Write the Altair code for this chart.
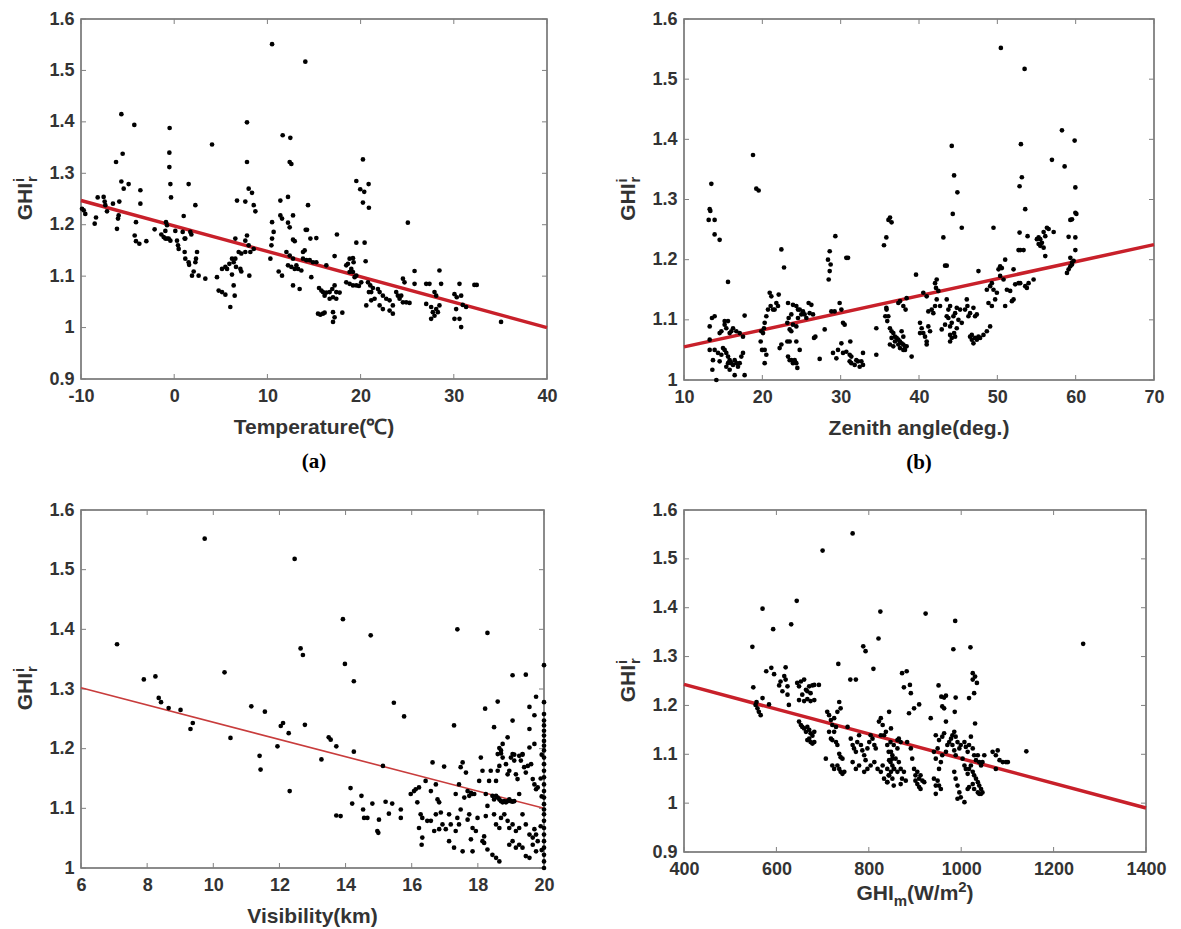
import altair as alt
import pandas as pd

# ---------------- data ----------------
# (a) Temperature (degC) vs GHI ratio
a_points = [
    (-9.89, 1.231), (-9.71, 1.228), (-9.54, 1.221), (-8.53, 1.202), (-8.39, 1.214), (-8.21, 1.253),
    (-7.57, 1.254), (-7.46, 1.245), (-7.39, 1.238), (-7.21, 1.226), (-6.57, 1.241), (-6.14, 1.192),
    (-6.03, 1.212), (-5.96, 1.218), (-5.89, 1.245), (-6.24, 1.322), (-5.67, 1.415), (-5.53, 1.338),
    (-5.67, 1.284), (-5.42, 1.27), (-4.89, 1.279), (-4.28, 1.394), (-4.1, 1.205), (-4.24, 1.179),
    (-4.1, 1.168), (-3.74, 1.163), (-3.63, 1.267), (-3.63, 1.241), (-2.99, 1.168), (-2.1, 1.191),
    (-1.38, 1.181), (-1.13, 1.176), (-0.95, 1.173), (-0.77, 1.173), (-0.88, 1.205), (-0.77, 1.199),
    (-0.95, 1.188), (-0.49, 1.388), (-0.52, 1.34), (-0.52, 1.312), (-0.41, 1.279), (-0.34, 1.253),
    (-0.59, 1.173), (-0.41, 1.169), (0.12, 1.188), (0.3, 1.169), (0.41, 1.16), (0.48, 1.153),
    (1.02, 1.217), (0.91, 1.186), (1.12, 1.173), (1.19, 1.173), (1.55, 1.279), (1.73, 1.186),
    (1.84, 1.181), (2.27, 1.238), (1.12, 1.147), (1.19, 1.134), (1.55, 1.127), (1.6, 1.122),
    (2.09, 1.109), (2.27, 1.127), (2.34, 1.134), (1.91, 1.101), (2.62, 1.101), (2.45, 1.147),
    (3.34, 1.095), (4.06, 1.356), (4.59, 1.098), (4.77, 1.072), (5.13, 1.069), (5.49, 1.064),
    (6.02, 1.04), (5.13, 1.114), (5.49, 1.118), (5.67, 1.114), (5.92, 1.124), (6.2, 1.134),
    (6.38, 1.127), (6.56, 1.134), (6.63, 1.118), (6.2, 1.103), (6.38, 1.082), (6.49, 1.062),
    (6.74, 1.247), (7.1, 1.114), (7.2, 1.109), (7.63, 1.245), (7.81, 1.399), (7.81, 1.322),
    (7.99, 1.27), (8.35, 1.262), (8.53, 1.238), (8.71, 1.226), (7.63, 1.169), (7.81, 1.179),
    (7.99, 1.16), (8.17, 1.147), (7.63, 1.147), (8.06, 1.101), (8.53, 1.153), (6.56, 1.173),
    (6.92, 1.147), (7.2, 1.144), (10.5, 1.551), (11.64, 1.374), (11.39, 1.247), (11.39, 1.218),
    (11.57, 1.212), (10.5, 1.205), (10.67, 1.186), (10.5, 1.173), (10.43, 1.16), (10.32, 1.134),
    (11.21, 1.109), (11.57, 1.101),
    (12.46, 1.369), (14.07, 1.517), (12.39, 1.322), (12.57, 1.318), (12.21, 1.254), (12.75, 1.218),
    (12.21, 1.204), (12.39, 1.195), (14.36, 1.238), (14.11, 1.19), (14.25, 1.19), (12.75, 1.171),
    (12.93, 1.168), (14.61, 1.173), (15.25, 1.174), (12.04, 1.147), (12.39, 1.14), (12.75, 1.134),
    (13.11, 1.121), (12.21, 1.121), (12.57, 1.118), (12.93, 1.114), (13.29, 1.114), (13.64, 1.111),
    (13.82, 1.134), (14.18, 1.131), (14.54, 1.131), (14.89, 1.127), (15.25, 1.127), (13.82, 1.147),
    (14.0, 1.15), (13.46, 1.075), (12.75, 1.082), (14.71, 1.098), (17.46, 1.181), (17.21, 1.139),
    (16.32, 1.121), (15.54, 1.077), (15.79, 1.072), (15.96, 1.069), (16.32, 1.068), (16.68, 1.069),
    (16.96, 1.075), (17.21, 1.082), (17.39, 1.069), (17.75, 1.068), (16.14, 1.062), (16.68, 1.056),
    (17.04, 1.059), (17.39, 1.056), (15.43, 1.027), (15.68, 1.025), (15.96, 1.027), (16.14, 1.029),
    (17.04, 1.03), (17.21, 1.02), (17.04, 1.011), (18.04, 1.029), (18.46, 1.121), (18.64, 1.124),
    (18.82, 1.134), (19.18, 1.135), (19.25, 1.127), (19.0, 1.114), (18.82, 1.108), (19.18, 1.108),
    (19.36, 1.098), (19.54, 1.101), (18.46, 1.088), (18.82, 1.085), (19.18, 1.082), (19.54, 1.082),
    (19.82, 1.081), (20.07, 1.088), (19.54, 1.165), (20.43, 1.165), (20.54, 1.129), (19.54, 1.285),
    (19.96, 1.269), (20.25, 1.327), (20.39, 1.264), (20.86, 1.279), (20.25, 1.243), (20.89, 1.233),
    (20.79, 1.088), (21.04, 1.082), (21.32, 1.077), (21.14, 1.069), (20.89, 1.069), (20.61, 1.043),
    (21.14, 1.053), (21.5, 1.056), (21.86, 1.075), (22.04, 1.069), (22.39, 1.062), (22.75, 1.056),
    (23.11, 1.053), (22.04, 1.043), (22.39, 1.036), (23.11, 1.033), (23.46, 1.027), (23.46, 1.043),
    (23.82, 1.069), (24.0, 1.062), (24.18, 1.056), (24.36, 1.062), (24.54, 1.049), (24.89, 1.049),
    (25.25, 1.048), (24.71, 1.088), (24.54, 1.095), (25.07, 1.204), (25.79, 1.11), (25.79, 1.085),
    (27.04, 1.085), (27.39, 1.085), (27.93, 1.069), (28.11, 1.062), (28.46, 1.111), (28.64, 1.085),
    (27.04, 1.046), (27.57, 1.04), (27.75, 1.03), (27.93, 1.023), (28.11, 1.036), (28.29, 1.03),
    (28.46, 1.043), (27.57, 1.017), (30.07, 1.065), (30.32, 1.059), (30.61, 1.085), (30.79, 1.062),
    (30.96, 1.044), (31.32, 1.04), (30.25, 1.036), (30.07, 1.017), (30.61, 1.017), (30.79, 1.001),
    (32.21, 1.083), (32.46, 1.083), (35.07, 1.011),
]

# (b) Zenith angle (deg.) vs GHI ratio
b_points = [
    (13.49, 1.326), (13.28, 1.284), (13.36, 1.281), (13.15, 1.266), (13.91, 1.266), (13.91, 1.242),
    (14.55, 1.233), (15.62, 1.163), (18.81, 1.374), (19.23, 1.318), (19.53, 1.315),
    (13.28, 1.089), (13.57, 1.103), (13.91, 1.106), (13.28, 1.067), (13.28, 1.05), (13.7, 1.033),
    (13.62, 1.017), (14.13, 1.0), (13.91, 1.05), (14.34, 1.045), (14.55, 1.031), (14.77, 1.042),
    (14.55, 1.078), (14.77, 1.081), (15.19, 1.092), (15.19, 1.098), (15.62, 1.098), (15.4, 1.086),
    (15.83, 1.078), (16.04, 1.081), (16.26, 1.086), (16.68, 1.081), (17.11, 1.078), (17.53, 1.072),
    (14.98, 1.053), (15.19, 1.05), (15.4, 1.045), (15.62, 1.039), (15.83, 1.033), (16.04, 1.028),
    (16.26, 1.025), (16.47, 1.033), (16.68, 1.028), (16.89, 1.022), (17.11, 1.028), (17.32, 1.039),
    (15.83, 1.017), (16.47, 1.008), (17.74, 1.008), (15.4, 1.022), (15.62, 1.028), (17.53, 1.045),
    (17.74, 1.107), (20.3, 1.05), (20.51, 1.042), (20.3, 1.028), (19.96, 1.05), (19.79, 1.064),
    (20.09, 1.078), (19.87, 1.081), (20.21, 1.086), (20.3, 1.095), (20.51, 1.106), (20.72, 1.117),
    (21.06, 1.123), (21.15, 1.139), (20.94, 1.145), (21.36, 1.117), (21.57, 1.117), (21.79, 1.128),
    (22.0, 1.123), (22.09, 1.142), (22.43, 1.217), (22.77, 1.187), (22.21, 1.053), (22.43, 1.059),
    (23.28, 1.128), (23.91, 1.125), (23.7, 1.109), (23.36, 1.103), (23.19, 1.095), (23.49, 1.084),
    (23.7, 1.081), (23.91, 1.092), (24.34, 1.089), (24.55, 1.103), (24.77, 1.117), (24.98, 1.109),
    (25.19, 1.114), (25.4, 1.109), (25.91, 1.128), (26.26, 1.125), (26.04, 1.111), (25.62, 1.103),
    (24.55, 1.117), (24.34, 1.123), (23.19, 1.064), (23.28, 1.039), (23.49, 1.033), (23.7, 1.033),
    (24.13, 1.033), (24.34, 1.028), (24.47, 1.02), (23.91, 1.028), (23.49, 1.064), (24.34, 1.064),
    (24.77, 1.05), (26.47, 1.109), (26.6, 1.07), (26.77, 1.072), (27.32, 1.035), (27.96, 1.084),
    (28.38, 1.2), (28.6, 1.214), (28.72, 1.192), (28.6, 1.181), (28.47, 1.167), (28.81, 1.114),
    (29.23, 1.114), (29.32, 1.239), (29.02, 1.045), (29.45, 1.036), (29.87, 1.128), (30.09, 1.117),
    (30.3, 1.095), (30.51, 1.092), (30.72, 1.203), (30.94, 1.203), (29.66, 1.05), (30.09, 1.061),
    (30.3, 1.045), (30.72, 1.047), (31.15, 1.042), (31.36, 1.039), (31.36, 1.028), (31.79, 1.025),
    (32.0, 1.033), (32.21, 1.031), (32.43, 1.022), (32.64, 1.031), (32.85, 1.025), (31.15, 1.031),
    (31.23, 1.064), (32.85, 1.045), (34.55, 1.042), (34.55, 1.086), (35.7, 1.106), (35.83, 1.12),
    (35.53, 1.224), (35.83, 1.237), (36.3, 1.27), (36.5, 1.262), (36.1, 1.266),
    (35.86, 1.117), (36.08, 1.106), (35.95, 1.098), (36.29, 1.086), (36.5, 1.081), (36.72, 1.078),
    (36.93, 1.072), (37.14, 1.07), (37.36, 1.067), (37.57, 1.064), (37.78, 1.061), (38.0, 1.059),
    (38.21, 1.056), (36.5, 1.07), (36.93, 1.064), (37.36, 1.059), (36.29, 1.059), (36.72, 1.056),
    (37.57, 1.053), (38.0, 1.05), (38.21, 1.05), (38.42, 1.056), (39.06, 1.039), (38.0, 1.072),
    (37.78, 1.081), (37.36, 1.128), (37.57, 1.131), (38.0, 1.123), (38.42, 1.136), (38.29, 1.117),
    (39.62, 1.175), (40.13, 1.095), (40.34, 1.086), (40.55, 1.078), (40.13, 1.078), (40.77, 1.072),
    (40.98, 1.064), (41.19, 1.089), (41.41, 1.081), (40.98, 1.059), (40.55, 1.145), (40.98, 1.139),
    (41.19, 1.114), (41.62, 1.117), (41.83, 1.111), (42.05, 1.123), (42.26, 1.134), (42.47, 1.148),
    (42.69, 1.123), (42.26, 1.167), (42.05, 1.161), (42.17, 1.153), (43.11, 1.237), (43.33, 1.19),
    (43.54, 1.19), (44.18, 1.389), (44.48, 1.34), (44.9, 1.312), (44.31, 1.276), (45.46, 1.253),
    (42.9, 1.084), (43.33, 1.092), (43.54, 1.106), (43.75, 1.117), (43.97, 1.123), (43.54, 1.134),
    (43.75, 1.103), (43.97, 1.089), (44.18, 1.095), (44.39, 1.106), (44.48, 1.078), (43.97, 1.075),
    (44.18, 1.07), (43.97, 1.064), (44.61, 1.072), (44.82, 1.086), (45.25, 1.117), (45.46, 1.095),
    (45.03, 1.1), (44.82, 1.12), (44.61, 1.111), (45.88, 1.117), (46.18, 1.123), (46.1, 1.134),
    (46.31, 1.106), (46.52, 1.111), (46.95, 1.12), (47.16, 1.106), (47.38, 1.109), (46.52, 1.072),
    (46.74, 1.067), (46.95, 1.061), (47.16, 1.07), (47.59, 1.072), (47.8, 1.07), (48.23, 1.075),
    (48.66, 1.081), (49.08, 1.089), (46.74, 1.075), (47.38, 1.067), (47.59, 1.181), (49.51, 1.253),
    (48.66, 1.15), (49.08, 1.156), (49.3, 1.161), (48.87, 1.128), (49.3, 1.123), (49.72, 1.134),
    (49.94, 1.145), (49.51, 1.15), (50.15, 1.184), (50.36, 1.173), (50.36, 1.189), (50.58, 1.186),
    (50.79, 1.167), (51.0, 1.123), (51.22, 1.15), (51.64, 1.148), (51.86, 1.131), (52.07, 1.134),
    (52.28, 1.159), (52.71, 1.161), (52.92, 1.161), (53.56, 1.156), (53.77, 1.153), (53.99, 1.161),
    (54.63, 1.167), (51.0, 1.2), (52.07, 1.184), (50.45, 1.552), (53.48, 1.517), (53.01, 1.392),
    (53.13, 1.337), (52.84, 1.322), (53.56, 1.284), (52.84, 1.245), (53.86, 1.239), (52.92, 1.216),
    (53.35, 1.216), (52.71, 1.216), (55.27, 1.237), (55.48, 1.234), (55.69, 1.228), (55.91, 1.246),
    (56.12, 1.239), (56.33, 1.253), (56.55, 1.251), (57.19, 1.246), (55.48, 1.223), (55.91, 1.22),
    (56.12, 1.206), (55.27, 1.226), (55.05, 1.234), (56.97, 1.366), (58.25, 1.415), (58.59, 1.355),
    (59.87, 1.398), (59.96, 1.32), (59.96, 1.278), (59.53, 1.267), (59.32, 1.266), (60.09, 1.276),
    (59.1, 1.238), (59.96, 1.237), (59.96, 1.216), (59.32, 1.203), (59.53, 1.195), (59.32, 1.189),
    (59.1, 1.184), (58.89, 1.178), (59.53, 1.192), (59.74, 1.198),
]

# (c) Visibility (km) vs GHI ratio
c_points = [
    (7.09, 1.375), (7.9, 1.316), (8.25, 1.321), (8.35, 1.285), (8.42, 1.278), (8.65, 1.268),
    (9.01, 1.265), (9.31, 1.233), (9.38, 1.243), (9.74, 1.552), (10.34, 1.328), (10.52, 1.218),
    (11.15, 1.271), (11.56, 1.262), (11.4, 1.188), (11.43, 1.165), (11.94, 1.204), (12.04, 1.238),
    (12.11, 1.243), (12.28, 1.226), (12.31, 1.129), (12.46, 1.518), (13.92, 1.417), (14.76, 1.39),
    (12.64, 1.368), (12.71, 1.357), (13.98, 1.342), (14.25, 1.313), (12.77, 1.24), (13.49, 1.219),
    (13.55, 1.215), (13.72, 1.204), (13.27, 1.182), (14.25, 1.195), (15.13, 1.171), (15.46, 1.277),
    (15.77, 1.254), (13.72, 1.088), (13.85, 1.087), (14.15, 1.134), (14.2, 1.108), (14.48, 1.121),
    (14.53, 1.098), (14.56, 1.084), (14.66, 1.084), (14.81, 1.108), (15.01, 1.081), (14.96, 1.062),
    (14.99, 1.059), (15.21, 1.111), (15.31, 1.091), (15.41, 1.108), (15.67, 1.098), (15.67, 1.084),
    (15.97, 1.124), (16.07, 1.129), (16.12, 1.132), (16.22, 1.135), (16.17, 1.11), (16.27, 1.09),
    (16.32, 1.084), (16.22, 1.067), (16.32, 1.051), (16.3, 1.039),
    (16.42, 1.146), (16.58, 1.129), (16.63, 1.177), (16.73, 1.14), (16.78, 1.115), (16.83, 1.11),
    (16.73, 1.09), (16.88, 1.093), (16.93, 1.073), (16.83, 1.065), (16.68, 1.062), (16.58, 1.079),
    (16.47, 1.079), (17.03, 1.065), (17.13, 1.09), (17.18, 1.073), (17.13, 1.045), (16.98, 1.17),
    (17.28, 1.239), (17.33, 1.062), (17.38, 1.084), (17.28, 1.034), (17.43, 1.073), (17.48, 1.098),
    (17.54, 1.028), (17.59, 1.118), (17.33, 1.124), (17.43, 1.14), (17.48, 1.169), (17.64, 1.16),
    (17.54, 1.177), (17.69, 1.129), (17.74, 1.121), (17.79, 1.126), (17.84, 1.124), (17.89, 1.124),
    (17.74, 1.09), (17.84, 1.067), (17.79, 1.048), (17.69, 1.081), (17.84, 1.028), (17.94, 1.062),
    (17.99, 1.084), (18.04, 1.146), (18.09, 1.185), (18.14, 1.163), (18.19, 1.053), (18.19, 1.042),
    (18.24, 1.087), (18.29, 1.104), (18.24, 1.124), (18.34, 1.146), (18.39, 1.163), (18.44, 1.121),
    (18.49, 1.115), (18.55, 1.121), (18.6, 1.118), (18.65, 1.115), (18.7, 1.112), (18.75, 1.11),
    (18.8, 1.112), (18.85, 1.11), (18.9, 1.112), (18.95, 1.115), (19.0, 1.112), (19.05, 1.111),
    (19.1, 1.112), (18.55, 1.146), (18.6, 1.163), (18.65, 1.171), (18.7, 1.197), (18.75, 1.208),
    (18.6, 1.191), (18.85, 1.174), (18.9, 1.157), (18.95, 1.163), (19.0, 1.185), (19.05, 1.191),
    (19.1, 1.18), (19.15, 1.157), (19.2, 1.149), (19.25, 1.124), (19.3, 1.18), (19.35, 1.191),
    (19.4, 1.169), (19.45, 1.16), (19.51, 1.171), (19.56, 1.202), (19.61, 1.174), (19.66, 1.149),
    (19.71, 1.14), (19.76, 1.132), (19.81, 1.135), (18.49, 1.09), (18.55, 1.073), (18.65, 1.067),
    (18.7, 1.084), (18.8, 1.09), (18.9, 1.079), (18.95, 1.067), (19.05, 1.073), (19.15, 1.062),
    (19.25, 1.067), (19.35, 1.09), (19.45, 1.073), (19.56, 1.056), (19.66, 1.051), (19.71, 1.065),
    (19.76, 1.056), (19.81, 1.045), (18.44, 1.022), (18.55, 1.017), (18.65, 1.011), (18.95, 1.039),
    (19.05, 1.045), (19.15, 1.034), (19.25, 1.039), (19.35, 1.034), (19.45, 1.02), (19.56, 1.017),
    (19.76, 1.028), (19.66, 1.039), (18.29, 1.031), (18.14, 1.045),
    (17.38, 1.4), (18.29, 1.394), (19.05, 1.323), (19.45, 1.324), (18.6, 1.279), (18.22, 1.267),
    (18.49, 1.236), (19.05, 1.247), (19.56, 1.27), (19.71, 1.256), (19.56, 1.233), (19.76, 1.287),
    (18.9, 1.219), (19.71, 1.208), (18.65, 1.201), (18.7, 1.192), (18.75, 1.185), (19.1, 1.19),
    (19.25, 1.188), (19.35, 1.19),
    (20, 1.34), (20, 1.278), (20, 1.258), (20, 1.247), (20, 1.239), (20, 1.23), (20, 1.222),
    (20, 1.213), (20, 1.205), (20, 1.197), (20, 1.185), (20, 1.174), (20, 1.163), (20, 1.152),
    (20, 1.14), (20, 1.129), (20, 1.118), (20, 1.107), (20, 1.098), (20, 1.09), (20, 1.079),
    (20, 1.067), (20, 1.056), (20, 1.045), (20, 1.034), (20, 1.022), (20, 1.011), (20, 1.0),
    (19.93, 1.19), (19.93, 1.12), (19.9, 1.07), (19.93, 1.03), (19.9, 1.15),
]

# (d) GHI_m (W/m2) vs GHI ratio
d_points = [
    (548, 1.32), (550, 1.237), (570, 1.398), (570, 1.215), (555, 1.201), (559, 1.194), (562, 1.187),
    (566, 1.18), (557, 1.207), (578, 1.27), (589, 1.277), (595, 1.264), (584, 1.202), (593, 1.356),
    (606, 1.241), (609, 1.249), (613, 1.229), (617, 1.26), (620, 1.278), (620, 1.253), (624, 1.239),
    (624, 1.222), (627, 1.201), (632, 1.366), (644, 1.414), (645, 1.246), (649, 1.239), (653, 1.249),
    (660, 1.253), (664, 1.232), (656, 1.222), (667, 1.229), (671, 1.239), (674, 1.225), (678, 1.241),
    (682, 1.242), (649, 1.211), (660, 1.209), (667, 1.213), (674, 1.209), (682, 1.211), (649, 1.167),
    (653, 1.16), (656, 1.156), (660, 1.153), (664, 1.146), (667, 1.156), (671, 1.15), (674, 1.143),
    (678, 1.138), (682, 1.146), (671, 1.132), (674, 1.125), (678, 1.122), (682, 1.125), (667, 1.129),
    (692, 1.242), (700, 1.517), (707, 1.091), (710, 1.187), (714, 1.18), (718, 1.17), (721, 1.16),
    (725, 1.174), (729, 1.156), (725, 1.146), (732, 1.187), (736, 1.207), (739, 1.194), (714, 1.146),
    (718, 1.132), (721, 1.129), (729, 1.125), (732, 1.119), (736, 1.101), (739, 1.094), (743, 1.091),
    (732, 1.077), (736, 1.07), (739, 1.064), (743, 1.06), (747, 1.064), (725, 1.07), (721, 1.077),
    (734, 1.285), (765, 1.552), (760, 1.253), (772, 1.253), (754, 1.156), (761, 1.132), (765, 1.119),
    (768, 1.112), (772, 1.105), (775, 1.125), (779, 1.139), (783, 1.119), (786, 1.108), (790, 1.098),
    (793, 1.088), (797, 1.112), (801, 1.125), (804, 1.139), (808, 1.132), (812, 1.119), (815, 1.112),
    (765, 1.084), (772, 1.07), (779, 1.077), (790, 1.064), (797, 1.07), (804, 1.077), (812, 1.084),
    (819, 1.07), (826, 1.064), (830, 1.077), (833, 1.05), (840, 1.043), (844, 1.057), (848, 1.064),
    (851, 1.077), (855, 1.07), (788, 1.321), (793, 1.311), (810, 1.275), (825, 1.392), (821, 1.337),
    (822, 1.167), (826, 1.174), (830, 1.16), (826, 1.139), (833, 1.139), (837, 1.146), (844, 1.187),
    (848, 1.153), (840, 1.119), (848, 1.105), (851, 1.091), (844, 1.088),
    (847, 1.125), (854, 1.119), (862, 1.129), (865, 1.132), (869, 1.125), (862, 1.112), (843, 1.105),
    (851, 1.098), (858, 1.091), (865, 1.084), (847, 1.084), (840, 1.07), (854, 1.07), (869, 1.07),
    (876, 1.064), (843, 1.057), (851, 1.05), (862, 1.064), (872, 1.05), (880, 1.046), (840, 1.043),
    (854, 1.036), (869, 1.039), (872, 1.266), (882, 1.27), (876, 1.237), (889, 1.242), (891, 1.225),
    (898, 1.194), (909, 1.202), (887, 1.184), (883, 1.125), (891, 1.112), (894, 1.091), (898, 1.07),
    (901, 1.057), (905, 1.064), (909, 1.05), (912, 1.057), (905, 1.039), (909, 1.033), (912, 1.029),
    (916, 1.046), (920, 1.043), (901, 1.046), (923, 1.388), (934, 1.174), (941, 1.105), (945, 1.091),
    (949, 1.112), (956, 1.084), (952, 1.07), (941, 1.05), (949, 1.046), (945, 1.036), (952, 1.036),
    (956, 1.029), (945, 1.019), (945, 1.139), (952, 1.129), (959, 1.136), (963, 1.143), (951, 1.241),
    (957, 1.218), (963, 1.216), (967, 1.22), (959, 1.198), (963, 1.194), (967, 1.167), (959, 1.098),
    (967, 1.105), (970, 1.119), (974, 1.125), (978, 1.132), (981, 1.139), (985, 1.146), (988, 1.136),
    (992, 1.125), (981, 1.119), (985, 1.108), (988, 1.098), (996, 1.112), (999, 1.119), (1007, 1.125),
    (1010, 1.115), (1014, 1.105), (1017, 1.119), (1021, 1.136), (1025, 1.112), (1028, 1.098),
    (1032, 1.088), (1036, 1.098), (1039, 1.084), (1043, 1.077), (1046, 1.084), (1050, 1.098),
    (1003, 1.091), (1007, 1.077), (1010, 1.07), (1014, 1.06), (1017, 1.07), (1021, 1.077),
    (1025, 1.064), (1028, 1.057), (1032, 1.05), (1036, 1.043), (1039, 1.036), (1043, 1.029),
    (1046, 1.022), (985, 1.064), (988, 1.05), (992, 1.036), (996, 1.022), (992, 1.009), (999, 1.012),
    (1007, 1.002), (1014, 1.029), (1017, 1.033), (1025, 1.039), (1028, 1.029), (1036, 1.022),
    (1039, 1.019), (1043, 1.019), (987, 1.373), (983, 1.315), (1020, 1.319), (988, 1.216),
    (986, 1.187), (1025, 1.266), (1030, 1.259), (1025, 1.253), (1034, 1.246), (1028, 1.225),
    (1017, 1.215), (1030, 1.163), (1068, 1.105), (1075, 1.098), (1079, 1.108), (1083, 1.088),
    (1075, 1.07), (1090, 1.084), (1097, 1.084), (1101, 1.084), (1141, 1.106), (1264, 1.326),
]

# fitted lines (end points)
a_line = [(-10, 1.247), (40, 1.0)]
b_line = [(10, 1.055), (70, 1.225)]
c_line = [(6, 1.302), (20, 1.10)]
d_line = [(400, 1.243), (1400, 0.99)]

# axis ticks
a_xticks = [-10, 0, 10, 20, 30, 40]
b_xticks = [10, 20, 30, 40, 50, 60, 70]
c_xticks = [6, 8, 10, 12, 14, 16, 18, 20]
d_xticks = [400, 600, 800, 1000, 1200, 1400]
y_ticks_09 = [0.9, 1.0, 1.1, 1.2, 1.3, 1.4, 1.5, 1.6]
y_ticks_10 = [1.0, 1.1, 1.2, 1.3, 1.4, 1.5, 1.6]

# titles
a_xtitle = "Temperature(\u2103)"
b_xtitle = "Zenith angle(deg.)"
c_xtitle = "Visibility(km)"
d_xtitle_parts = ["GHI", "m", "(W/m", "2", ")"]
captions = ["(a)", "(b)", "", ""]

# ---------------- styling ----------------
FONT = "Liberation Sans"
TXT = "#333333"
RED = "#c8202a"
TICK = "#808080"
LABEL_EXPR = "'' + datum.value"


def text(s, x, y, size, angle=0, align="left", font=FONT, weight="bold", color=TXT):
    return alt.Chart(pd.DataFrame({"t": [s]})).mark_text(
        angle=angle, align=align, baseline="alphabetic", font=font,
        fontWeight=weight, fontSize=size, color=color,
    ).encode(text="t:N", x=alt.value(x), y=alt.value(y))


def panel(points, line, xdom, ydom, xticks, yticks, W, H, lw, lcolor,
          caption, xtitle=None, xtitle_parts=None, title_off=55):
    X = alt.X("x:Q", scale=alt.Scale(domain=xdom, nice=False, zero=False),
              axis=alt.Axis(values=xticks, title=None, labelExpr=LABEL_EXPR,
                            labelPadding=8, labelFlush=False, labelOverlap=False))
    Y = alt.Y("y:Q", scale=alt.Scale(domain=ydom, nice=False, zero=False),
              axis=alt.Axis(values=yticks, title=None, labelExpr=LABEL_EXPR,
                            labelPadding=7, labelFlush=False, labelOverlap=False))

    pts = alt.Chart(pd.DataFrame(points, columns=["x", "y"])).mark_circle(
        size=22, color="black", opacity=1).encode(x=X, y=Y)
    ln = alt.Chart(pd.DataFrame(line, columns=["x", "y"])).mark_line(
        color=lcolor, strokeWidth=lw).encode(x=X, y=Y)

    xt = pd.DataFrame({"x": xticks})
    yt = pd.DataFrame({"y": yticks})
    tb = alt.Chart(xt).mark_rule(color=TICK, strokeWidth=1).encode(
        x=X, y=alt.value(H), y2=alt.value(H - 5))
    tt = alt.Chart(xt).mark_rule(color=TICK, strokeWidth=1).encode(
        x=X, y=alt.value(0), y2=alt.value(5))
    tl = alt.Chart(yt).mark_rule(color=TICK, strokeWidth=1).encode(
        y=Y, x=alt.value(0), x2=alt.value(5))
    tr = alt.Chart(yt).mark_rule(color=TICK, strokeWidth=1).encode(
        y=Y, x=alt.value(W), x2=alt.value(W - 5))

    layers = [tb, tt, tl, tr, ln, pts]

    # y title: GHI^i_r (rotated)
    layers.append(text("GHI", -49, H / 2 - 16, 21, angle=270, align="right"))
    layers.append(text("i", -57, H / 2 - 17, 15, angle=270))
    layers.append(text("r", -44, H / 2 - 17, 15, angle=270))

    # x title
    if xtitle is not None:
        layers.append(text(xtitle, W / 2, H + title_off, 21, align="center"))
    if xtitle_parts is not None:
        g, m, wm, two, close = xtitle_parts
        x0 = W / 2 - 58.6
        base = H + title_off
        layers.append(text(g, x0, base, 21))
        layers.append(text(m, x0 + 37.3, base + 6, 15))
        layers.append(text(wm, x0 + 50.6, base, 21))
        layers.append(text(two, x0 + 101.9, base - 8, 15))
        layers.append(text(close, x0 + 110.2, base, 21))

    if caption:
        layers.append(text(caption, W / 2, H + 89, 21, align="center",
                           font="Liberation Serif", weight="bold", color="black"))

    return alt.layer(*layers).properties(width=W, height=H)


pa = panel(a_points, a_line, [-10, 40], [0.9, 1.6], a_xticks, y_ticks_09, 466, 360,
           3.5, RED, captions[0], xtitle=a_xtitle)
pb = panel(b_points, b_line, [10, 70], [1.0, 1.6], b_xticks, y_ticks_10, 470, 361,
           3.5, RED, captions[1], xtitle=b_xtitle)
pc = panel(c_points, c_line, [6, 20], [1.0, 1.6], c_xticks, y_ticks_10, 463, 358,
           1.6, "#c83c3c", captions[2], xtitle=c_xtitle)
pd_ = panel(d_points, d_line, [400, 1400], [0.9, 1.6], d_xticks, y_ticks_09, 462, 342,
            3.5, RED, captions[3], xtitle_parts=d_xtitle_parts, title_off=48)

chart = alt.concat(
    pa, pb, pc, pd_, columns=2, spacing={"row": 130, "column": 137}, bounds="flush"
).configure_view(
    stroke="#666666", strokeWidth=1.5
).configure_axis(
    labelFont=FONT, labelFontWeight="bold", labelFontSize=18, labelColor=TXT,
    domain=False, ticks=False, tickSize=0, grid=False,
).properties(
    padding={"left": 3, "top": 1, "right": 5, "bottom": 5}
)

chart.save("out.html", embed_options={"renderer": "svg", "actions": False})
